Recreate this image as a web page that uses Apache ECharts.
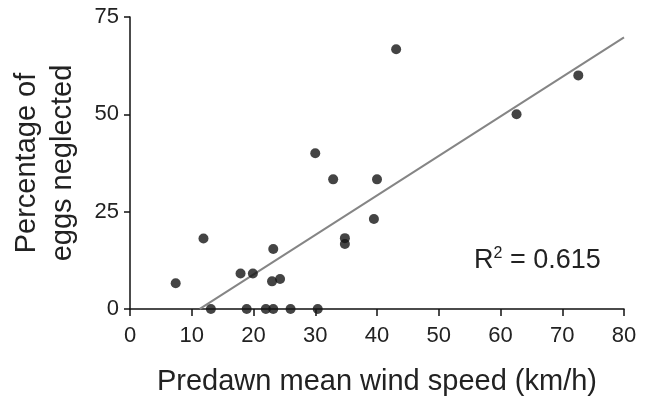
<!DOCTYPE html>
<html>
<head>
<meta charset="utf-8">
<script src="https://cdn.jsdelivr.net/npm/echarts@6/dist/echarts.min.js"></script>
<style>
  html, body { margin: 0; padding: 0; background: #fff; }
  #chart { width: 652px; height: 398px; }
</style>
</head>
<body>
<div id="chart"></div>
<script>
  // wind speed (km/h) per nest night
  const windSpeed = [7.4, 11.9, 13.1, 17.9, 19.9, 18.9, 22.0, 23.2, 23.0, 24.3, 23.2, 26.0,
    30.0, 30.4, 32.9, 34.8, 34.8, 39.5, 40.0, 43.1, 62.6, 72.6]
  // percentage of eggs neglected
  const eggsNeglected = [6.6, 18.1, 0, 9.1, 9.1, 0, 0, 0, 7.1, 7.7, 15.4, 0,
    40.0, 0, 33.3, 18.2, 16.7, 23.1, 33.3, 66.7, 50.0, 60.0]

  // linear fit
  const fitSlope = 1.015
  const fitIntercept = -11.45
  const fitRange = [11.3, 80]
  const rSquared = '0.615'

  const xTicks = [0, 80, 10]
  const yTicks = [0, 75, 25]

  const points = windSpeed.map((x, i) => [x, eggsNeglected[i]])
  const fitLine = fitRange.map(x => [x, fitSlope * x + fitIntercept])

  const font = 'Liberation Sans, Arial, Helvetica, sans-serif'

  const chart = echarts.init(document.getElementById('chart'))
  chart.setOption({
    animation: false,
    grid: { left: 130, right: 28, top: 17, bottom: 89, outerBoundsMode: 'none', containLabel: false },
    xAxis: {
      type: 'value',
      min: xTicks[0], max: xTicks[1], interval: xTicks[2],
      name: 'Predawn mean wind speed (km/h)',
      nameLocation: 'middle',
      nameGap: 58,
      nameTextStyle: { fontSize: 29, color: '#222', fontFamily: font },
      axisLine: { lineStyle: { color: '#111', width: 1.5 } },
      axisTick: { length: 7, lineStyle: { color: '#111', width: 1.5 } },
      axisLabel: { fontSize: 22, color: '#222', fontFamily: font, margin: 16 },
      splitLine: { show: false }
    },
    yAxis: {
      type: 'value',
      min: yTicks[0], max: yTicks[1], interval: yTicks[2],
      name: 'Percentage of\neggs neglected',
      nameLocation: 'middle',
      nameRotate: 90,
      nameGap: 49,
      nameTextStyle: { fontSize: 29, color: '#222', fontFamily: font, lineHeight: 36 },
      axisLine: { show: true, lineStyle: { color: '#111', width: 1.5 } },
      axisTick: { show: true, length: 6, lineStyle: { color: '#111', width: 1.5 } },
      axisLabel: { fontSize: 22, color: '#222', fontFamily: font, margin: 11 },
      splitLine: { show: false }
    },
    graphic: [{
      type: 'text',
      left: 474,
      top: 246,
      style: {
        text: '{r|R}{sup|2}{r| = ' + rSquared + '}',
        rich: {
          r: { fontSize: 27, lineHeight: 30, fill: '#222', fontFamily: font },
          sup: { fontSize: 16, lineHeight: 16, fill: '#222', fontFamily: font, verticalAlign: 'top' }
        }
      }
    }],
    series: [
      {
        type: 'line',
        data: fitLine,
        showSymbol: false,
        silent: true,
        lineStyle: { color: '#858585', width: 2 },
        z: 1
      },
      {
        type: 'scatter',
        data: points,
        symbolSize: 10,
        itemStyle: { color: '#151515' },
        z: 2
      }
    ]
  })
</script>
</body>
</html>
